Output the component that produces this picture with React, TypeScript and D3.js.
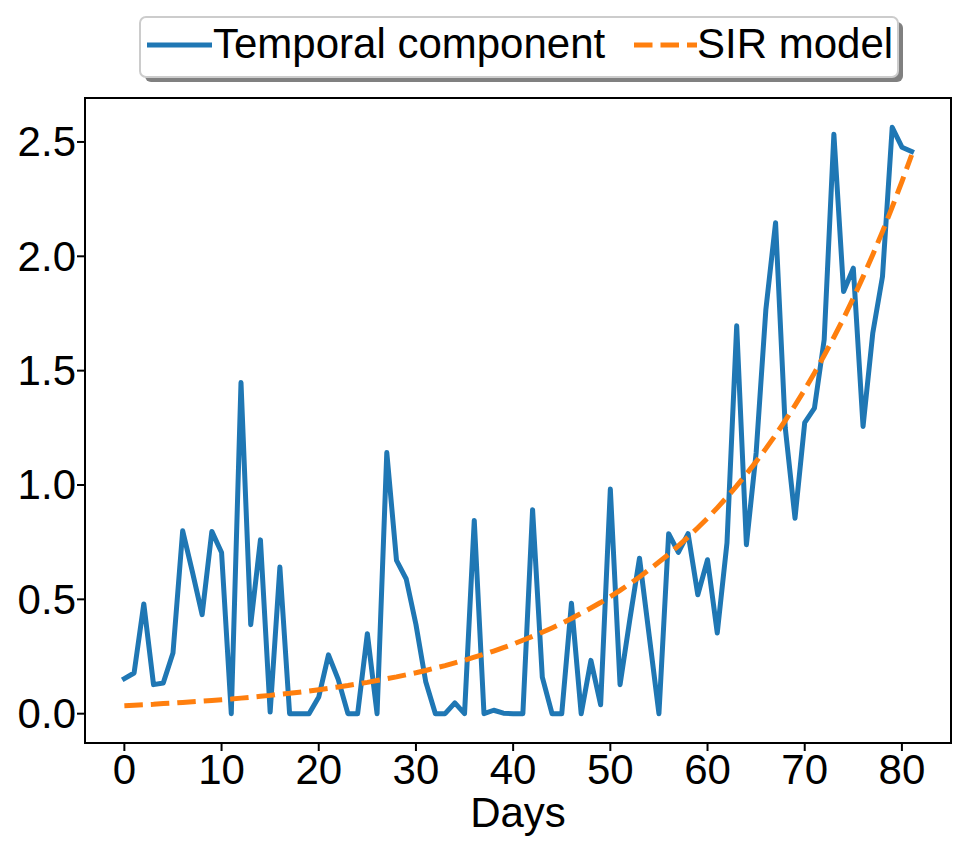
import React, { useEffect, useRef } from 'react';
import * as d3 from 'd3';

// daily values
const temporal = [
  0.153, 0.178, 0.48, 0.127, 0.134, 0.265, 0.8, 0.62, 0.433, 0.797,
  0.705, 0.0, 1.448, 0.389, 0.76, 0.007, 0.641, 0.0, 0.0, 0.0,
  0.073, 0.257, 0.15, 0.0, 0.0, 0.35, 0.0, 1.142, 0.67, 0.589,
  0.39, 0.141, 0.0, 0.0, 0.047, 0.0, 0.845, 0.0, 0.015, 0.002,
  0.0, 0.0, 0.892, 0.16, 0.0, 0.0, 0.483, 0.0, 0.233, 0.039,
  0.982, 0.127, 0.41, 0.68, 0.34, 0.0, 0.787, 0.705, 0.787, 0.52,
  0.673, 0.353, 0.746, 1.696, 0.739, 1.14, 1.766, 2.147, 1.249, 0.855,
  1.273, 1.336, 1.635, 2.534, 1.846, 1.948, 1.256, 1.664, 1.911, 2.564,
  2.477, 2.458,
];

const sirModel = [
  0.035, 0.037, 0.039, 0.041, 0.044, 0.046, 0.049, 0.052, 0.055, 0.058,
  0.061, 0.064, 0.068, 0.072, 0.076, 0.08, 0.085, 0.089, 0.094, 0.099,
  0.105, 0.111, 0.117, 0.123, 0.13, 0.137, 0.145, 0.153, 0.161, 0.17,
  0.179, 0.189, 0.2, 0.21, 0.222, 0.234, 0.247, 0.26, 0.274, 0.289,
  0.304, 0.321, 0.338, 0.356, 0.375, 0.395, 0.416, 0.439, 0.462, 0.486,
  0.512, 0.539, 0.568, 0.598, 0.63, 0.663, 0.697, 0.734, 0.773, 0.813,
  0.855, 0.9, 0.947, 0.996, 1.048, 1.102, 1.159, 1.219, 1.282, 1.348,
  1.417, 1.49, 1.566, 1.646, 1.729, 1.817, 1.91, 2.007, 2.108, 2.215,
  2.327, 2.443,
];

const xTicks = [0, 10, 20, 30, 40, 50, 60, 70, 80];
const yTicks = [0.0, 0.5, 1.0, 1.5, 2.0, 2.5];
const legendLabels = ['Temporal component', 'SIR model'];

const BLUE = '#1f77b4';
const ORANGE = '#ff7f0e';
const FONT = '"Liberation Sans", Arial, sans-serif';
const FONT_SIZE = '42px';

const App: React.FC = () => {
  const svgRef = useRef<SVGSVGElement>(null);

  useEffect(() => {
    if (!svgRef.current) return;
    const svg = d3.select(svgRef.current);
    svg.selectAll('*').remove();

    const frame = { left: 85, right: 951, top: 98, bottom: 743 };
    const n = temporal.length;
    const xPad = (n - 1) * 0.05;
    const yMax = d3.max(temporal.concat(sirModel)) || 0;
    const yPad = yMax * 0.05;

    const x = d3.scaleLinear()
      .domain([-xPad, n - 1 + xPad])
      .range([frame.left, frame.right]);

    const y = d3.scaleLinear()
      .domain([-yPad, yMax + yPad])
      .range([frame.bottom, frame.top]);

    svg.append('rect')
      .attr('width', 969)
      .attr('height', 857)
      .attr('fill', '#ffffff');

    // series
    const line = d3.line<number>()
      .x((_, i) => x(i))
      .y(d => y(d));

    svg.append('path')
      .datum(temporal)
      .attr('fill', 'none')
      .attr('stroke', BLUE)
      .attr('stroke-width', 5)
      .attr('stroke-linejoin', 'round')
      .attr('stroke-linecap', 'square')
      .attr('d', line);

    svg.append('path')
      .datum(sirModel)
      .attr('fill', 'none')
      .attr('stroke', ORANGE)
      .attr('stroke-width', 5)
      .attr('stroke-dasharray', '18.5,8')
      .attr('d', line);

    // frame
    svg.append('rect')
      .attr('x', frame.left)
      .attr('y', frame.top)
      .attr('width', frame.right - frame.left)
      .attr('height', frame.bottom - frame.top)
      .attr('fill', 'none')
      .attr('stroke', '#000')
      .attr('stroke-width', 2);

    // x axis
    const xAxis = svg.append('g');
    xAxis.selectAll('line')
      .data(xTicks)
      .enter()
      .append('line')
      .attr('x1', d => x(d))
      .attr('x2', d => x(d))
      .attr('y1', frame.bottom)
      .attr('y2', frame.bottom + 8)
      .attr('stroke', '#000')
      .attr('stroke-width', 2);
    xAxis.selectAll('text')
      .data(xTicks)
      .enter()
      .append('text')
      .attr('x', d => x(d))
      .attr('y', 784)
      .attr('text-anchor', 'middle')
      .style('font-family', FONT)
      .style('font-size', FONT_SIZE)
      .text(d => String(d));

    // y axis
    const yAxis = svg.append('g');
    yAxis.selectAll('line')
      .data(yTicks)
      .enter()
      .append('line')
      .attr('x1', frame.left - 8)
      .attr('x2', frame.left)
      .attr('y1', d => y(d))
      .attr('y2', d => y(d))
      .attr('stroke', '#000')
      .attr('stroke-width', 2);
    yAxis.selectAll('text')
      .data(yTicks)
      .enter()
      .append('text')
      .attr('x', 76)
      .attr('y', d => y(d) + 14.5)
      .attr('text-anchor', 'end')
      .style('font-family', FONT)
      .style('font-size', FONT_SIZE)
      .text(d => d3.format('.1f')(d));

    svg.append('text')
      .attr('x', (frame.left + frame.right) / 2)
      .attr('y', 827)
      .attr('text-anchor', 'middle')
      .style('font-family', FONT)
      .style('font-size', FONT_SIZE)
      .text('Days');

    // legend
    const legend = svg.append('g');
    legend.append('rect')
      .attr('x', 145)
      .attr('y', 22)
      .attr('width', 758)
      .attr('height', 60)
      .attr('rx', 6)
      .attr('fill', '#808080');
    legend.append('rect')
      .attr('x', 140)
      .attr('y', 17)
      .attr('width', 758)
      .attr('height', 60)
      .attr('rx', 6)
      .attr('fill', '#ffffff')
      .attr('stroke', '#cccccc')
      .attr('stroke-width', 2);

    legend.append('line')
      .attr('x1', 147)
      .attr('x2', 212)
      .attr('y1', 45)
      .attr('y2', 45)
      .attr('stroke', BLUE)
      .attr('stroke-width', 5);
    legend.append('text')
      .attr('x', 213)
      .attr('y', 58)
      .style('font-family', FONT)
      .style('font-size', FONT_SIZE)
      .text(legendLabels[0]);

    legend.append('line')
      .attr('x1', 634)
      .attr('x2', 697)
      .attr('y1', 45)
      .attr('y2', 45)
      .attr('stroke', ORANGE)
      .attr('stroke-width', 5)
      .attr('stroke-dasharray', '18.5,8');
    legend.append('text')
      .attr('x', 697)
      .attr('y', 58)
      .style('font-family', FONT)
      .style('font-size', FONT_SIZE)
      .text(legendLabels[1]);
  }, []);

  return (
    <svg
      ref={svgRef}
      width={969}
      height={857}
      style={{ position: 'absolute', left: 0, top: 0 }}
    />
  );
};

export default App;
